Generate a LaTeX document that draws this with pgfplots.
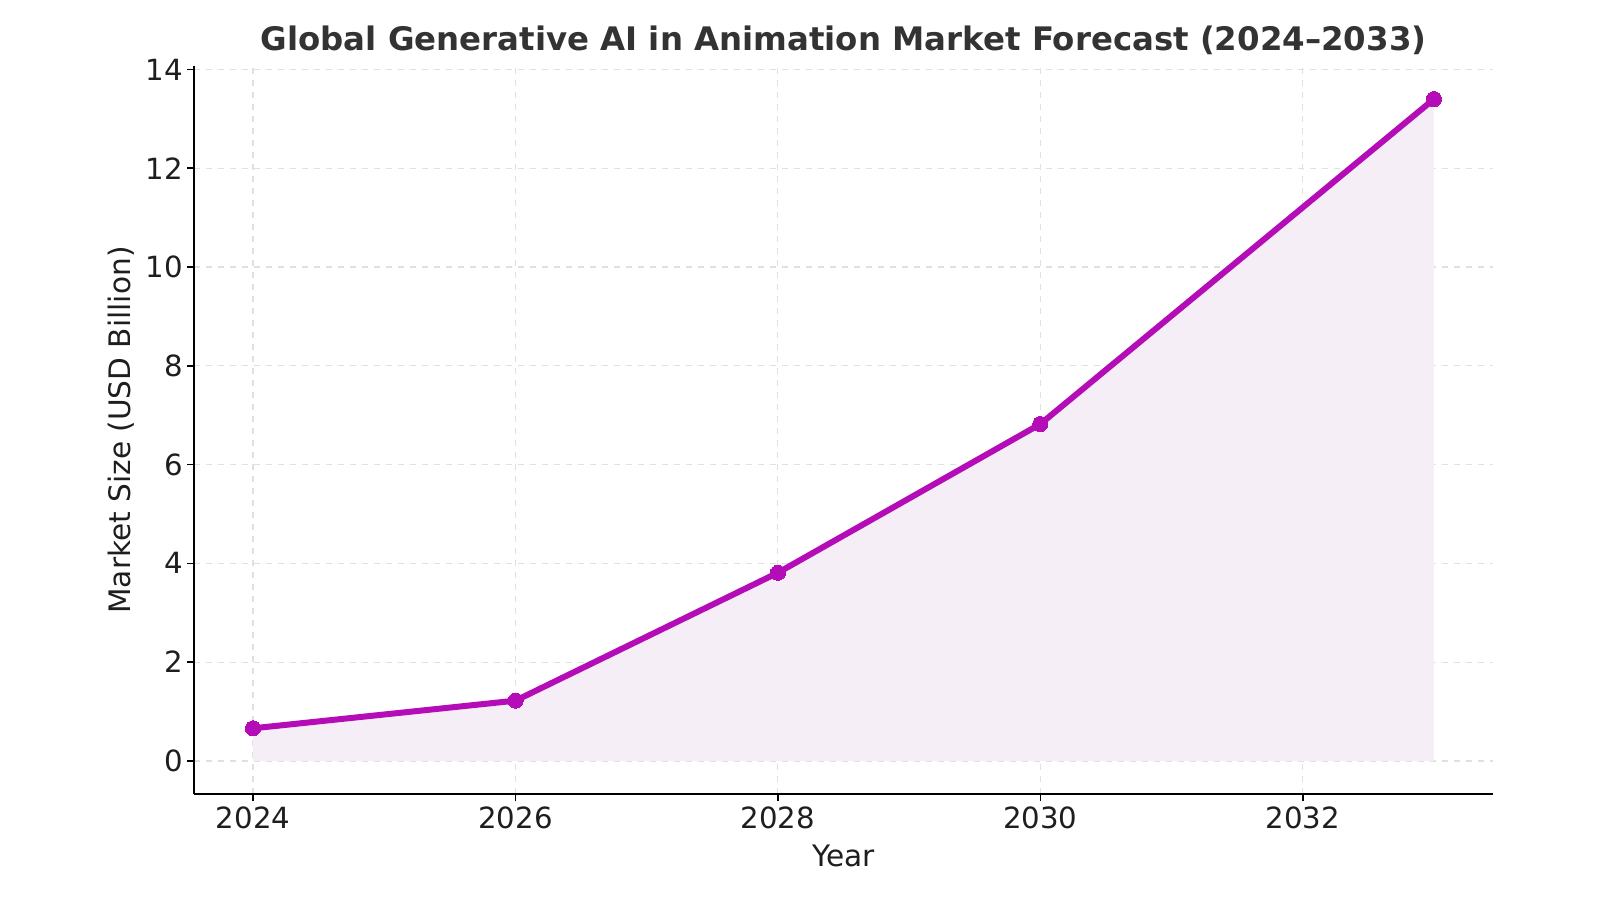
\documentclass[border=0pt]{standalone}
\usepackage{pgfplots}
\pgfplotsset{compat=1.18}
\usepackage{fontspec}
\setmainfont{DejaVu Sans}

\definecolor{linecol}{HTML}{B40CB6}
\definecolor{fillcol}{HTML}{F5EEF6}
\definecolor{gridcol}{HTML}{E0E0E0}
\definecolor{titlecol}{HTML}{333333}
\definecolor{textcol}{HTML}{1E1E1E}

\begin{document}
\begin{tikzpicture}
\useasboundingbox (0,0) rectangle (800pt,450pt);
\begin{axis}[
  at={(97pt,53pt)}, anchor=south west,
  scale only axis, width=649.5pt, height=364pt,
  xmin=2023.55, xmax=2033.45,
  ymin=-0.67, ymax=14.07,
  axis lines=left,
  axis line style={-, line width=0.9pt, black},
  xtick={2024,2026,2028,2030,2032},
  ytick={0,2,4,6,8,10,12,14},
  tick align=outside,
  major tick length=3.5pt,
  tick style={line width=0.8pt, black},
  grid=major,
  major grid style={dashed, gridcol, line width=0.6pt},
  /pgf/number format/assume math mode=true,
  /pgf/number format/1000 sep={},
  ticklabel style={font=\fontsize{14.6}{17}\selectfont, text=textcol},
  xticklabel style={yshift=0.5pt},
  yticklabel style={xshift=1.5pt},
  xlabel={Year},
  ylabel={Market Size (USD Billion)},
  label style={font=\fontsize{14.8}{17}\selectfont, text=textcol},
  xlabel style={yshift=-1pt},
  ylabel style={yshift=-1pt},
  title={\bfseries Global Generative AI in Animation Market Forecast (2024–2033)},
  title style={font=\fontsize{16.2}{19}\selectfont, text=titlecol, yshift=-4pt},
]
% shaded area under the forecast curve
\addplot[draw=none, fill=fillcol] coordinates {
  (2024,0.66) (2026,1.22) (2028,3.81) (2030,6.82) (2033,13.40)
} \closedcycle;
% forecast line with markers
\addplot[linecol, line width=3pt, mark=*, mark size=3.8pt,
  mark options={solid, fill=linecol, draw=linecol, line width=0pt}] coordinates {
  (2024,0.66) (2026,1.22) (2028,3.81) (2030,6.82) (2033,13.40)
};
\end{axis}
\end{tikzpicture}
\end{document}
